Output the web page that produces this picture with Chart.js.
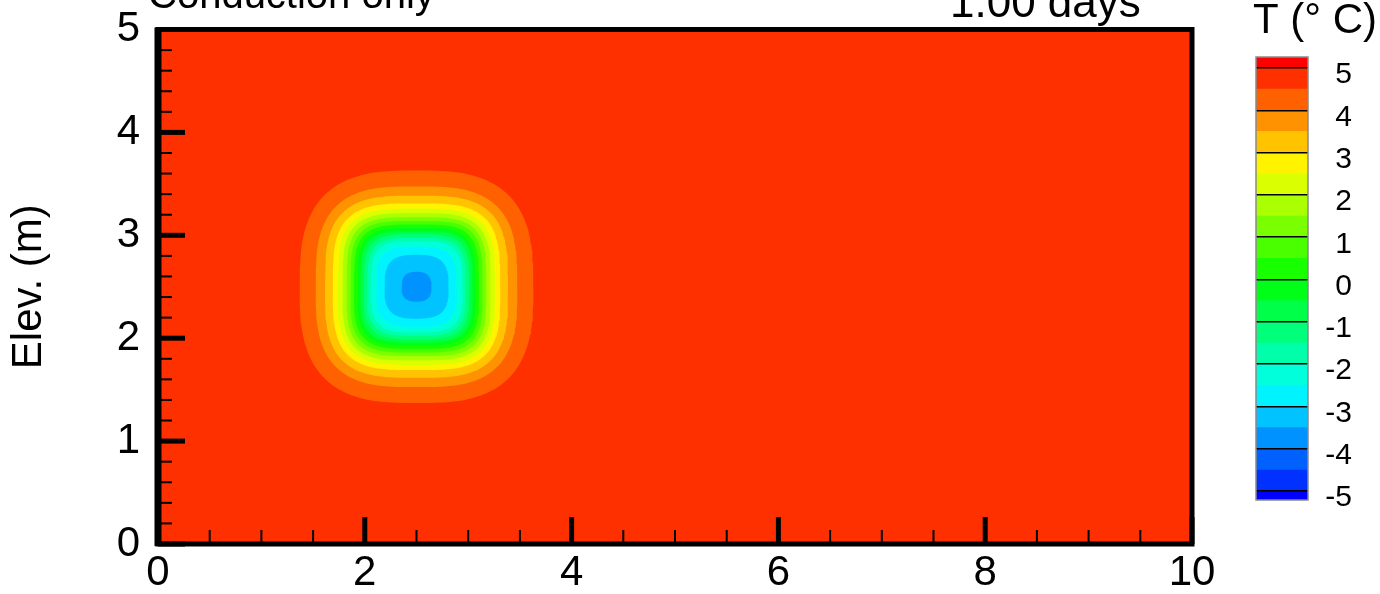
<!DOCTYPE html>
<html>
<head>
<meta charset="utf-8">
<script src="https://cdn.jsdelivr.net/npm/chart.js@4.4.1/dist/chart.umd.min.js"></script>
<style>
  html, body { margin: 0; padding: 0; background: #fff; }
  #wrap { position: relative; width: 1380px; height: 594px; overflow: hidden; }
  #fieldChart { position: absolute; left: 0; top: 0; }
  #legendChart { position: absolute; left: 1230px; top: 0; }
</style>
</head>
<body>
<div id="wrap">
  <canvas id="fieldChart" width="1230" height="594"></canvas>
  <canvas id="legendChart" width="150" height="594"></canvas>
</div>
<script>
const plotTitle = 'Conduction only';
const timeLabel = '1.00 days';
const yTitle = 'Elev. (m)';
const legendTitle = 'T (° C)';

const xTicks = [0, 2, 4, 6, 8, 10];
const xMinorTicks = [0.5, 1, 1.5, 2.5, 3, 3.5, 4.5, 5, 5.5, 6.5, 7, 7.5, 8.5, 9, 9.5];
const yTicks = [0, 1, 2, 3, 4, 5];
const yMinorTicks = [0.2, 0.4, 0.6, 0.8, 1.2, 1.4, 1.6, 1.8, 2.2, 2.4, 2.6, 2.8,
                     3.2, 3.4, 3.6, 3.8, 4.2, 4.4, 4.6, 4.8];

// contour levels (deg C) and band colours, lowest band (< -5) first
const tempLevels = [-5, -4.5, -4, -3.5, -3, -2.5, -2, -1.5, -1, -0.5, 0,
                    0.5, 1, 1.5, 2, 2.5, 3, 3.5, 4, 4.5, 5];
const bandColors = ['#0000FF', '#0031FF', '#0061FF', '#0092FF', '#00C3FF', '#00F3FF',
                    '#00FFDA', '#00FFAA', '#00FF7A', '#00FF49', '#00FF18', '#18FF00',
                    '#49FF00', '#7AFF00', '#AAFF00', '#DAFF00', '#FFF300', '#FFC300',
                    '#FF9200', '#FF6100', '#FF3000', '#FF0000'];
const legendTicks = [-5, -4, -3, -2, -1, 0, 1, 2, 3, 4, 5];

// cold patch: centre (m) and, per contour level, half size (m) and corner squareness
const blobCenter = [2.5, 2.5];
const contourLevels = [4.5, 4, 3.5, 3, 2.5, 2, 1.5, 1, 0.5, 0, -0.5, -1, -1.5, -2, -2.5, -3, -3.5];
const contourHalfSize = [1.13, 0.975, 0.885, 0.81, 0.76, 0.715, 0.675, 0.64, 0.605,
                         0.572, 0.542, 0.51, 0.478, 0.445, 0.39, 0.31, 0.145];
const contourSquareness = [2.9, 3.1, 3.3, 3.5, 3.6, 3.7, 3.8, 3.8, 3.8, 3.8, 3.8, 3.7,
                           3.6, 3.5, 3.3, 3.0, 2.6];

Chart.defaults.font.family = '"Liberation Sans", Arial, sans-serif';
Chart.defaults.color = '#000';

function colorBelow(level) {
  return bandColors[tempLevels.indexOf(level)];
}

function contourPoints(half, n) {
  const pts = [];
  const steps = 180;
  for (let i = 0; i <= steps; i++) {
    const t = (i / steps) * 2 * Math.PI;
    const c = Math.cos(t), s = Math.sin(t);
    pts.push({
      x: blobCenter[0] + half * Math.sign(c) * Math.pow(Math.abs(c), 2 / n),
      y: blobCenter[1] + half * Math.sign(s) * Math.pow(Math.abs(s), 2 / n)
    });
  }
  return pts;
}

const fieldDatasets = contourLevels.map((lvl, k) => ({
  label: 'T < ' + lvl,
  data: contourPoints(contourHalfSize[k], contourSquareness[k]),
  showLine: true,
  fill: 'shape',
  backgroundColor: colorBelow(lvl),
  borderWidth: 0,
  pointRadius: 0,
  tension: 0,
  order: contourLevels.length - k
}));

// background band and frame / inward ticks / titles
const fieldDecor = {
  id: 'fieldDecor',
  beforeDatasetsDraw(chart) {
    const {ctx, chartArea: a} = chart;
    ctx.save();
    ctx.fillStyle = colorBelow(5);
    ctx.fillRect(a.left, a.top, a.right - a.left, a.bottom - a.top);
    ctx.restore();
  },
  afterDatasetsDraw(chart) {
    const {ctx, chartArea: a, scales} = chart;
    ctx.save();
    ctx.strokeStyle = '#000';
    ctx.lineCap = 'butt';
    const tick = (x1, y1, x2, y2, w) => {
      ctx.lineWidth = w;
      ctx.beginPath(); ctx.moveTo(x1, y1); ctx.lineTo(x2, y2); ctx.stroke();
    };
    xMinorTicks.forEach(v => { const x = scales.x.getPixelForValue(v); tick(x, a.bottom, x, a.bottom - 14, 2); });
    xTicks.forEach(v => { const x = scales.x.getPixelForValue(v); tick(x, a.bottom, x, a.bottom - 27, 5); });
    yMinorTicks.forEach(v => { const y = scales.y.getPixelForValue(v); tick(a.left, y, a.left + 14, y, 2); });
    yTicks.forEach(v => { const y = scales.y.getPixelForValue(v); tick(a.left, y, a.left + 27, y, 5); });
    ctx.lineWidth = 5;
    ctx.strokeRect(a.left, a.top, a.right - a.left, a.bottom - a.top);
    tick(a.left, a.top - 2, a.left, a.bottom + 2, 7);
    ctx.fillStyle = '#000';
    ctx.textBaseline = 'alphabetic';
    ctx.textAlign = 'left';
    ctx.font = '40px "Liberation Sans", Arial, sans-serif';
    ctx.fillText(plotTitle, 148, 8);
    ctx.font = '44px "Liberation Sans", Arial, sans-serif';
    ctx.fillText(timeLabel, 950, 17);
    ctx.restore();
  }
};

new Chart(document.getElementById('fieldChart'), {
  type: 'scatter',
  data: { datasets: fieldDatasets },
  options: {
    responsive: false,
    animation: false,
    layout: { padding: { left: 0, top: 29.5, right: 38, bottom: 0 } },
    plugins: { legend: { display: false }, tooltip: { enabled: false } },
    scales: {
      x: {
        type: 'linear', min: 0, max: 10,
        afterBuildTicks: s => { s.ticks = xTicks.map(v => ({ value: v })); },
        afterFit: s => { s.height = 50; s.paddingLeft = 0; s.paddingRight = 0; },
        grid: { display: false, drawTicks: false },
        border: { display: false },
        ticks: { font: { size: 42 }, padding: 4, maxRotation: 0 }
      },
      y: {
        type: 'linear', min: 0, max: 5,
        afterBuildTicks: s => { s.ticks = yTicks.map(v => ({ value: v })); },
        afterFit: s => { s.width = 158; s.paddingTop = 0; s.paddingBottom = 0; },
        grid: { display: false, drawTicks: false },
        border: { display: false },
        ticks: { font: { size: 42 }, padding: 18 },
        title: { display: true, text: yTitle, font: { size: 42 }, padding: { top: 4, bottom: 0 } }
      }
    }
  },
  plugins: [fieldDecor]
});

// colour legend
const legendMin = -5.21, legendMax = 5.26;
const legendBands = bandColors.map((c, i) => [
  i === 0 ? legendMin : tempLevels[i - 1],
  i === bandColors.length - 1 ? legendMax : tempLevels[i]
]);

const legendDecor = {
  id: 'legendDecor',
  afterDraw(chart) {
    const {ctx, chartArea: a} = chart;
    ctx.save();
    ctx.strokeStyle = '#8a8a8a';
    ctx.lineWidth = 1.5;
    ctx.strokeRect(a.left, a.top, a.right - a.left, a.bottom - a.top);
    ctx.fillStyle = '#000';
    ctx.textAlign = 'left';
    ctx.textBaseline = 'alphabetic';
    ctx.font = '42px "Liberation Sans", Arial, sans-serif';
    ctx.fillText(legendTitle, 23, 33);
    ctx.restore();
  }
};

new Chart(document.getElementById('legendChart'), {
  type: 'bar',
  data: {
    labels: ['T'],
    datasets: legendBands.map((b, i) => ({
      data: [b],
      backgroundColor: bandColors[i],
      borderWidth: 0
    }))
  },
  options: {
    responsive: false,
    animation: false,
    layout: { padding: { left: 26, top: 57, right: 28, bottom: 94 } },
    datasets: { bar: { grouped: false, barPercentage: 1, categoryPercentage: 1 } },
    plugins: { legend: { display: false }, tooltip: { enabled: false } },
    scales: {
      x: { display: false },
      y: {
        position: 'right', min: legendMin, max: legendMax,
        afterBuildTicks: s => { s.ticks = legendTicks.map(v => ({ value: v })); },
        afterFit: s => { s.width = 44; s.paddingTop = 0; s.paddingBottom = 0; },
        grid: { color: '#000', lineWidth: 1.5, z: 1, drawTicks: false },
        border: { display: false },
        ticks: { font: { size: 30 }, padding: 14, crossAlign: 'far', labelOffset: 7 }
      }
    }
  },
  plugins: [legendDecor]
});
</script>
</body>
</html>
